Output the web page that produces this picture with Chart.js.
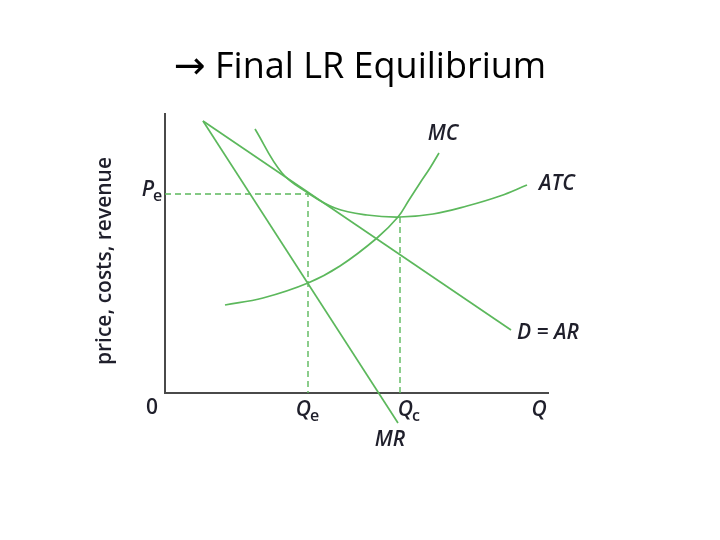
<!DOCTYPE html>
<html>
<head>
<meta charset="utf-8">
<script src="https://cdn.jsdelivr.net/npm/chart.js@4.4.1/dist/chart.umd.min.js"></script>
<style>
  body { margin: 0; background: #fff; }
  #wrap { position: relative; width: 720px; height: 540px; }
  #title {
    position: absolute; left: 0; top: 40px; width: 720px; text-align: center;
    font-family: "Open Sans", sans-serif; font-size: 36px; color: #000;
  }
  #title .arrow { font-family: "DejaVu Sans", sans-serif; font-size: 38px; }
</style>
</head>
<body>
<div id="wrap">
  <div id="title"><span class="arrow">&rarr;</span> Final LR Equilibrium</div>
  <canvas id="chart" width="720" height="540"></canvas>
</div>
<script>
// curve values (q = quantity, p = price)
const demandQ = [38, 346];
const demandP = [272, 63];
const mrQ = [38, 233];
const mrP = [272, -30];
const atcQ = [90, 117, 143, 170, 202, 235, 268, 302, 335, 362];
const atcP = [264, 220, 200, 185, 178, 176, 179, 187, 197, 208];
const mcQ = [60, 98, 143, 175, 212, 233, 244, 255, 265, 274];
const mcP = [88, 95, 110, 127, 155, 176, 193, 210, 225, 240];

const qe = 143, pe = 199;
const qc = 235, pc = 176;

const curveLabels = ['MC', 'ATC', 'D = AR', 'MR', 'Q', '0'];
const curveLabelQ = [278, 392, 383, 225, 374, -13];
const curveLabelP = [259, 209, 60, -47, -17, -15];

const green = '#5cb85c';
const ink = '#1f1f2b';

const pts = (xs, ys) => xs.map((x, i) => ({x: x, y: ys[i]}));

const line = (data, extra) => Object.assign({
  data: data,
  showLine: true,
  borderColor: green,
  borderWidth: 1.7,
  pointRadius: 0,
  fill: false,
}, extra || {});

const dashed = {borderDash: [6, 4], borderWidth: 1.4};

const axesPlugin = {
  id: 'axes',
  beforeDatasetsDraw(chart) {
    const {ctx, scales: {x, y}} = chart;
    ctx.save();
    ctx.strokeStyle = '#4a4a4a';
    ctx.lineWidth = 2;
    ctx.beginPath();
    ctx.moveTo(x.getPixelForValue(0), y.getPixelForValue(280));
    ctx.lineTo(x.getPixelForValue(0), y.getPixelForValue(0));
    ctx.lineTo(x.getPixelForValue(384), y.getPixelForValue(0));
    ctx.stroke();
    ctx.restore();
  },
  afterDraw(chart) {
    const {ctx, scales: {x, y}} = chart;
    ctx.save();
    ctx.fillStyle = ink;
    ctx.textAlign = 'center';
    ctx.textBaseline = 'middle';
    curveLabels.forEach((t, i) => {
      ctx.font = (t === '0' ? '600 ' : 'italic 600 ') + '21px "Open Sans"';
      ctx.fillText(t, x.getPixelForValue(curveLabelQ[i]), y.getPixelForValue(curveLabelP[i]));
    });
    // subscripted labels
    const sub = (main, s, px, py) => {
      ctx.font = 'italic 600 21px "Open Sans"';
      ctx.textAlign = 'right';
      ctx.fillText(main, px + 3, py);
      ctx.font = '600 16px "Open Sans"';
      ctx.textAlign = 'left';
      ctx.fillText(s, px + 2, py + 6);
    };
    sub('Q', 'e', x.getPixelForValue(qe), y.getPixelForValue(-17));
    sub('Q', 'c', x.getPixelForValue(qc) + 10, y.getPixelForValue(-17));
    sub('P', 'e', x.getPixelForValue(-14), y.getPixelForValue(pe + 4));
    // y axis title
    ctx.font = '600 21px "Open Sans"';
    ctx.textAlign = 'center';
    ctx.translate(105, 261);
    ctx.rotate(-Math.PI / 2);
    ctx.fillText('price, costs, revenue', 0, 0);
    ctx.restore();
  }
};

new Chart(document.getElementById('chart'), {
  type: 'scatter',
  data: {
    datasets: [
      line(pts(demandQ, demandP)),
      line(pts(mrQ, mrP)),
      line(pts(atcQ, atcP), {tension: 0.4}),
      line(pts(mcQ, mcP), {tension: 0.4}),
      line([{x: 0, y: pe}, {x: qe, y: pe}, {x: qe, y: 0}], dashed),
      line([{x: qc, y: pc}, {x: qc, y: 0}], dashed),
    ]
  },
  options: {
    responsive: false,
    animation: false,
    layout: {padding: {left: 165, right: 171, top: 113, bottom: 97}},
    plugins: {legend: {display: false}, tooltip: {enabled: false}},
    scales: {
      x: {type: 'linear', min: 0, max: 384, display: false},
      y: {type: 'linear', min: -50, max: 280, display: false},
    }
  },
  plugins: [axesPlugin]
});
</script>
</body>
</html>
